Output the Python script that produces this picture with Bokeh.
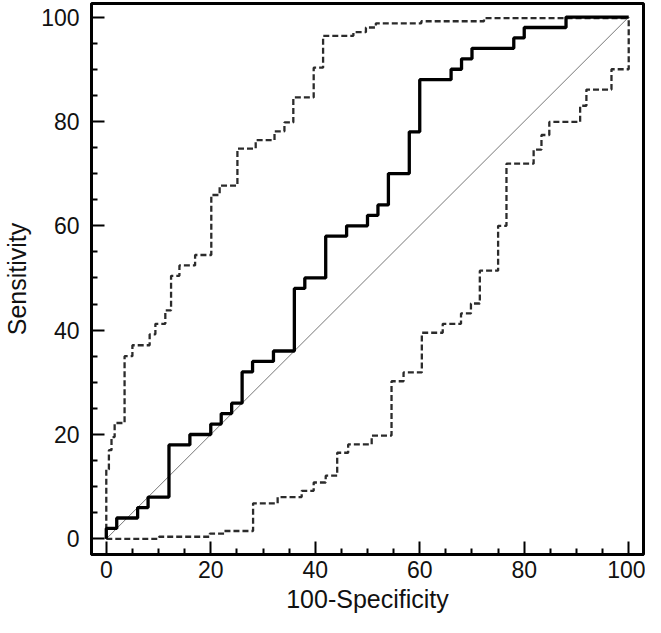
from bokeh.plotting import figure
from bokeh.models import Range1d, FixedTicker
from bokeh.embed import file_html
from bokeh.resources import INLINE

# ROC curve: 100-Specificity (x) where sensitivity steps up to value (y)
roc_fpr = [0, 0, 2, 6, 8, 12, 16, 20, 22, 24, 26, 28, 32, 36, 38, 42, 46, 50, 52, 54, 58, 60, 66, 68, 70, 78, 80, 88, 100]
roc_tpr = [0, 2, 4, 6, 8, 18, 20, 22, 24, 26, 32, 34, 36, 48, 50, 58, 60, 62, 64, 70, 78, 88, 90, 92, 94, 96, 98, 100, 100]

# Upper confidence bound
upper_fpr = [0, 0, 0.5, 1.0, 1.6, 3.5, 5.0, 8.3, 9.4, 11.3, 12.4, 14.0, 17.0, 20.1, 21.7, 25.1, 28.6, 32.2, 34.1, 35.8, 39.7, 41.5, 47.3, 49.7, 51.6, 60.3, 72.3, 100]
upper_tpr = [0, 13.3, 17.0, 19.5, 22.2, 35.0, 37.1, 39.2, 41.2, 43.8, 50.4, 52.4, 54.4, 65.9, 67.7, 74.8, 76.4, 78.1, 79.8, 84.6, 90.3, 96.4, 97.1, 98.0, 98.8, 99.2, 99.8, 100]

# Lower confidence bound
lower_fpr = [0, 10.1, 19.8, 22.6, 28.1, 32.8, 37.4, 39.7, 42.0, 44.2, 46.3, 50.8, 54.6, 56.9, 60.4, 64.4, 67.9, 69.8, 71.5, 75.0, 76.6, 81.8, 83.3, 84.8, 90.7, 91.9, 96.7, 100]
lower_tpr = [0, 0.4, 1.0, 1.5, 6.8, 8.0, 9.2, 10.8, 12.1, 16.5, 18.1, 19.8, 30.2, 31.9, 39.5, 41.2, 43.2, 45.1, 51.4, 60.0, 71.9, 74.6, 77.4, 79.9, 83.0, 86.1, 90.0, 100]

# Reference diagonal
diag = [0, 100]

major_ticks = [0, 20, 40, 60, 80, 100]
minor_ticks = [5, 10, 15, 25, 30, 35, 45, 50, 55, 65, 70, 75, 85, 90, 95]

p = figure(width=645, height=617,
           x_range=Range1d(-2.83, 102.83), y_range=Range1d(-3.0, 102.6),
           output_backend="svg", toolbar_location=None,
           min_border_left=87, min_border_right=2, min_border_top=3, min_border_bottom=63,
           x_axis_label="100-Specificity", y_axis_label="Sensitivity")

p.xgrid.visible = False
p.ygrid.visible = False
p.outline_line_color = "black"
p.outline_line_width = 3
p.outline_line_alpha = 1.0
p.background_fill_color = "white"
p.border_fill_color = "white"

for ax in (p.xaxis[0], p.yaxis[0]):
    ax.ticker = FixedTicker(ticks=major_ticks, minor_ticks=minor_ticks)
    ax.axis_line_width = 3
    ax.axis_line_color = "black"
    ax.major_tick_in = 13
    ax.major_tick_out = 0
    ax.minor_tick_in = 6
    ax.minor_tick_out = 0
    ax.major_tick_line_width = 2
    ax.minor_tick_line_width = 2
    ax.major_tick_line_color = "black"
    ax.minor_tick_line_color = "black"
    ax.major_label_text_font = "Liberation Sans"
    ax.major_label_text_font_size = "23px"
    ax.major_label_text_color = "#111111"
    ax.axis_label_text_font = "Liberation Sans"
    ax.axis_label_text_font_size = "25px"
    ax.axis_label_text_font_style = "normal"
    ax.axis_label_text_color = "#111111"

p.xaxis.major_label_standoff = 6
p.xaxis.axis_label_standoff = 4
p.yaxis.major_label_standoff = 12
p.yaxis.axis_label_standoff = 7

p.line(diag, diag, line_color="#777777", line_width=1)
p.step(upper_fpr, upper_tpr, mode="after", line_color="#2b2b2b", line_width=2.3, line_dash="6 3")
p.step(lower_fpr, lower_tpr, mode="after", line_color="#2b2b2b", line_width=2.3, line_dash="6 3")
p.step(roc_fpr, roc_tpr, mode="after", line_color="black", line_width=3.3)

open("out.html", "w").write(file_html(p, INLINE))
